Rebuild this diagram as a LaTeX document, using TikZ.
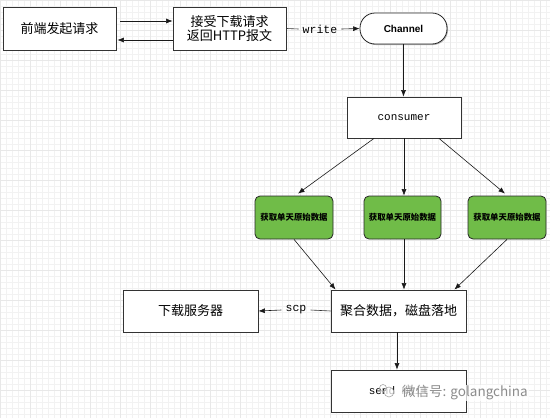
\documentclass[tikz,border=0pt]{standalone}
\usepackage{fontspec}
\setmainfont{Liberation Serif}
\setmonofont{Liberation Mono}
\newfontfamily\cjk{Noto Sans CJK SC}
\newfontfamily\hsans{Liberation Sans}
\usetikzlibrary{arrows.meta,shadows}
\definecolor{greenbox}{RGB}{112,188,72}
\tikzset{
  box/.style={draw=black!80, fill=white, line width=0.8pt, minimum width=113pt, minimum height=43pt,
    inner sep=1pt, align=center, font=\cjk\fontsize{13pt}{14.5pt}\selectfont,
    drop shadow={shadow xshift=1.3pt, shadow yshift=-1.3pt, fill=black!40, opacity=1}},
  greenstyle/.style={draw=black!85, fill=greenbox, line width=0.8pt, rounded corners=5pt,
    minimum width=78pt, minimum height=43pt, inner sep=1pt,
    font=\cjk\bfseries\fontsize{8.4pt}{10pt}\selectfont},
  pill/.style={draw=black!85, fill=white, line width=0.8pt, rounded corners=15pt,
    minimum width=87pt, minimum height=31pt, font=\hsans\bfseries\fontsize{10pt}{12pt}\selectfont,
    drop shadow={shadow xshift=1pt, shadow yshift=-1pt, fill=black!30, opacity=1}},
  lbl/.style={font=\ttfamily\fontsize{11.5pt}{12pt}\selectfont, inner sep=4pt},
  arr/.style={-{Latex[length=6.5pt,width=5pt]}, line width=0.6pt, black!90},
  ln/.style={line width=0.6pt, black!80},
}
\begin{document}
\begin{tikzpicture}[x=1pt,y=-1pt]
\useasboundingbox (0,0) rectangle (550,418);
\fill[white] (0,0) rectangle (550,418);
\draw[step=6pt, black!5, line width=0.25pt] (0,0) grid (550,418);
\draw[step=30pt, black!9, line width=0.35pt] (0,0) grid (550,418);

\node[box] (front) at (59.5,28.5) {前端发起请求};
\node[box] (recv) at (229.5,28.5) {接受下载请求\\返回HTTP报文};
\node[pill] (chan) at (403.5,28.5) {Channel};
\node[box, minimum width=114pt, minimum height=41pt, font=\ttfamily\fontsize{11pt}{12pt}\selectfont] (cons) at (404,117.5) {consumer};
\node[greenstyle] (g1) at (294,217.5) {获取单天原始数据};
\node[greenstyle, minimum width=77pt] (g2) at (402.5,217.5) {获取单天原始数据};
\node[greenstyle] (g3) at (507,217.5) {获取单天原始数据};
\node[box, minimum width=135pt, minimum height=42pt] (agg) at (398.5,311) {聚合数据，磁盘落地};
\node[box, minimum width=135pt, minimum height=42pt] (srv) at (190.5,311) {下载服务器};
\node[box, minimum width=135pt, minimum height=42pt, font=\ttfamily\fontsize{11pt}{12pt}\selectfont] (mail) at (398.5,391) {send mail};

\node[lbl] (wl) at (320,29) {write};
\node[lbl] (sl) at (296,310) {scp};

% top arrows
\draw[arr] ([xshift=4pt,yshift=7.5pt]front.east) -- ([yshift=7.5pt]recv.west);
\draw[arr] ([yshift=-11.5pt]recv.west) -- ([xshift=1pt,yshift=-11.5pt]front.east);
\draw[ln] (recv.east) -- (wl.west);
\draw[arr] (wl.east) -- (chan.west);
\draw[arr] (chan.south) -- (chan.south |- cons.north);

% consumer to green
\draw[arr] ([xshift=-30pt]cons.south) -- ([xshift=4pt,yshift=2pt]g1.north);
\draw[arr] (cons.south) -- (cons.south |- g2.north);
\draw[arr] ([xshift=35pt]cons.south) -- ([xshift=-2pt,yshift=2pt]g3.north);

% green to agg
\draw[arr] (g1.south) -- ([xshift=5pt]agg.north west);
\draw[arr] ([xshift=1.5pt]g2.south) -- ([xshift=1.5pt]g2.south |- agg.north);
\draw[arr] (g3.south) -- ([xshift=-12pt]agg.north east);

% scp
\draw[ln] (agg.west) -- (sl.east);
\draw[arr] (sl.west) -- (srv.east);
\draw[arr] ([xshift=-1.5pt]agg.south) -- ([xshift=-1.5pt]mail.north);

% watermark
\node[anchor=west, inner sep=1pt, text=black!45, fill=white, fill opacity=0.75, text opacity=1,
  font=\cjk\fontsize{13.5pt}{15pt}\selectfont] (wm) at (401,393) {微信号: golangchina};
\node[circle, draw=black!35, fill=white, fill opacity=0.75, draw opacity=1, line width=0.6pt, minimum size=10pt, inner sep=0pt] (wx) at (389,392) {};
\node[circle, draw=black!35, line width=0.6pt, minimum size=7pt, inner sep=0pt] (wy) at (383,388) {};
\end{tikzpicture}
\end{document}
